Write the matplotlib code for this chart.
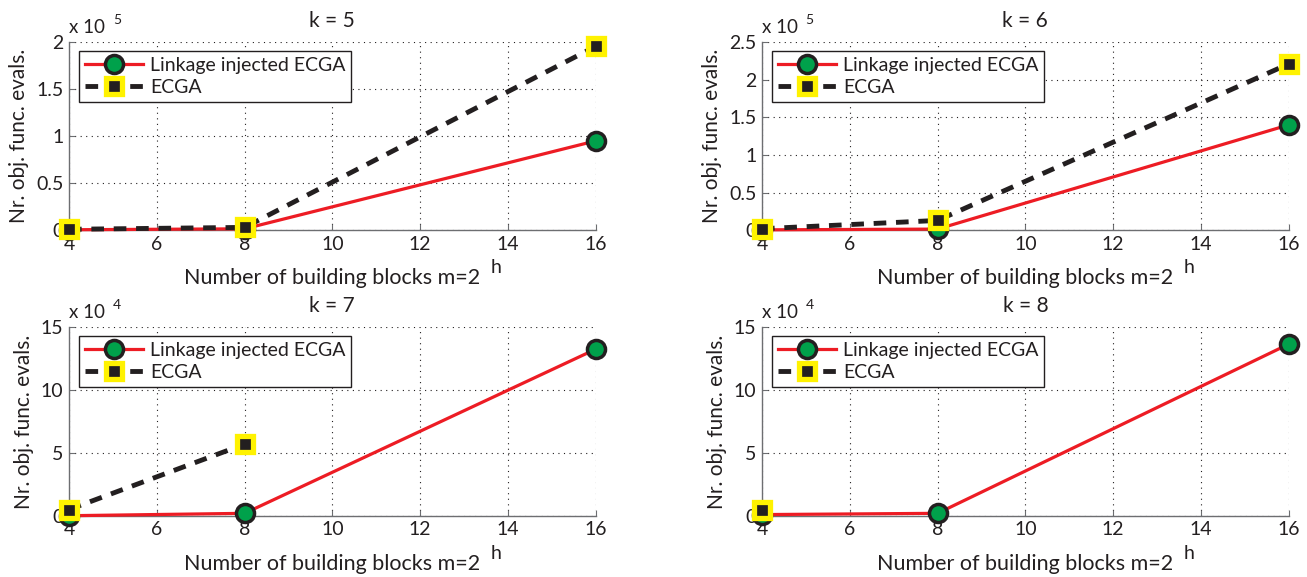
import numpy as np
import matplotlib
matplotlib.use("Agg")
import matplotlib.pyplot as plt
from matplotlib.ticker import FuncFormatter

plt.rcParams['font.family'] = ['Lato', 'DejaVu Sans']

# datos
x_bloques = [4, 8, 16]
titulos = ["k = 5", "k = 6", "k = 7", "k = 8"]

linkage_k5 = [500, 1500, 95000]
ecga_k5 = [1000, 3000, 195500]
linkage_k6 = [500, 1500, 140000]
ecga_k6 = [2000, 13000, 221000]
linkage_k7 = [100, 2000, 132500]
ecga_k7 = [5000, 57000]
linkage_k8 = [1000, 2000, 136500]
ecga_k8 = [5000]

escalas = [1e5, 1e5, 1e4, 1e4]
exponentes = [5, 5, 4, 4]
y_max = [2e5, 2.5e5, 15e4, 15e4]
y_paso = [0.5e5, 0.5e5, 5e4, 5e4]

series_link = [linkage_k5, linkage_k6, linkage_k7, linkage_k8]
series_ecga = [ecga_k5, ecga_k6, ecga_k7, ecga_k8]

ROJO = "#ed1c24"
NEGRO = "#231f20"
VERDE = "#00a14b"
AMARILLO = "#fff200"
TEXTO = "#231f20"

fig = plt.figure(figsize=(13.07, 5.77), dpi=100)

posiciones = [
    [0.0528, 0.601, 0.403, 0.326],
    [0.583, 0.601, 0.403, 0.326],
    [0.0528, 0.106, 0.403, 0.327],
    [0.583, 0.106, 0.403, 0.327],
]

for i in range(4):
    ax = fig.add_axes(posiciones[i])
    esc = escalas[i]

    ax.plot(x_bloques, series_link[i], color=ROJO, lw=2.3, marker="o",
            markersize=13, markerfacecolor=VERDE, markeredgecolor=NEGRO,
            markeredgewidth=2.5, label="Linkage injected ECGA", zorder=3,
            clip_on=False)
    xe = x_bloques[:len(series_ecga[i])]
    ax.plot(xe, series_ecga[i], color=NEGRO, lw=3.5, ls=(0, (2.6, 2.0)),
            marker="s", markersize=12, markerfacecolor=NEGRO,
            markeredgecolor=AMARILLO, markeredgewidth=3.8, label="ECGA",
            zorder=4, clip_on=False)

    ax.set_xlim(4, 16)
    ax.set_ylim(0, y_max[i])
    ax.set_xticks(np.arange(4, 17, 2))
    ax.set_yticks(np.arange(0, y_max[i] + 1, y_paso[i]))
    ax.yaxis.set_major_formatter(FuncFormatter(lambda v, p, e=esc: f"{v / e:g}"))

    for lado in ["top", "right"]:
        ax.spines[lado].set_visible(False)
    for lado in ["left", "bottom"]:
        ax.spines[lado].set_color("#6d6e71")
        ax.spines[lado].set_linewidth(1.0)

    ax.grid(True, ls=(0, (1, 4)), color=NEGRO, lw=0.8)
    ax.tick_params(direction="in", length=4, color="#6d6e71",
                   labelsize=14, labelcolor=TEXTO, pad=4)

    ax.set_title(titulos[i], fontsize=15, color=TEXTO, pad=11)
    ax.set_ylabel("Nr. obj. func. evals.", fontsize=15, color=TEXTO, labelpad=5)
    ax.set_xlabel("Number of building blocks m=2", fontsize=15.5, color=TEXTO,
                  labelpad=11)
    ax.text(0.80, -0.20, "h", transform=ax.transAxes, fontsize=14,
            color=TEXTO, ha="left", va="center")
    ax.text(0.0, 1.03, "x 10", transform=ax.transAxes, fontsize=13.5,
            color=TEXTO, ha="left", va="bottom")
    ax.text(0.083, 1.085, str(exponentes[i]), transform=ax.transAxes,
            fontsize=10, color=TEXTO, ha="left", va="bottom")

    leg = ax.legend(loc="upper left", bbox_to_anchor=(0.019, 0.952),
                    borderaxespad=0, fancybox=False, framealpha=1,
                    edgecolor=NEGRO, fontsize=14, handlelength=3.0,
                    borderpad=0.3, labelspacing=0.25, handletextpad=0.35)
    leg.get_frame().set_linewidth(1.0)
    for t in leg.get_texts():
        t.set_color(TEXTO)

fig.savefig("out.png", dpi=100)
